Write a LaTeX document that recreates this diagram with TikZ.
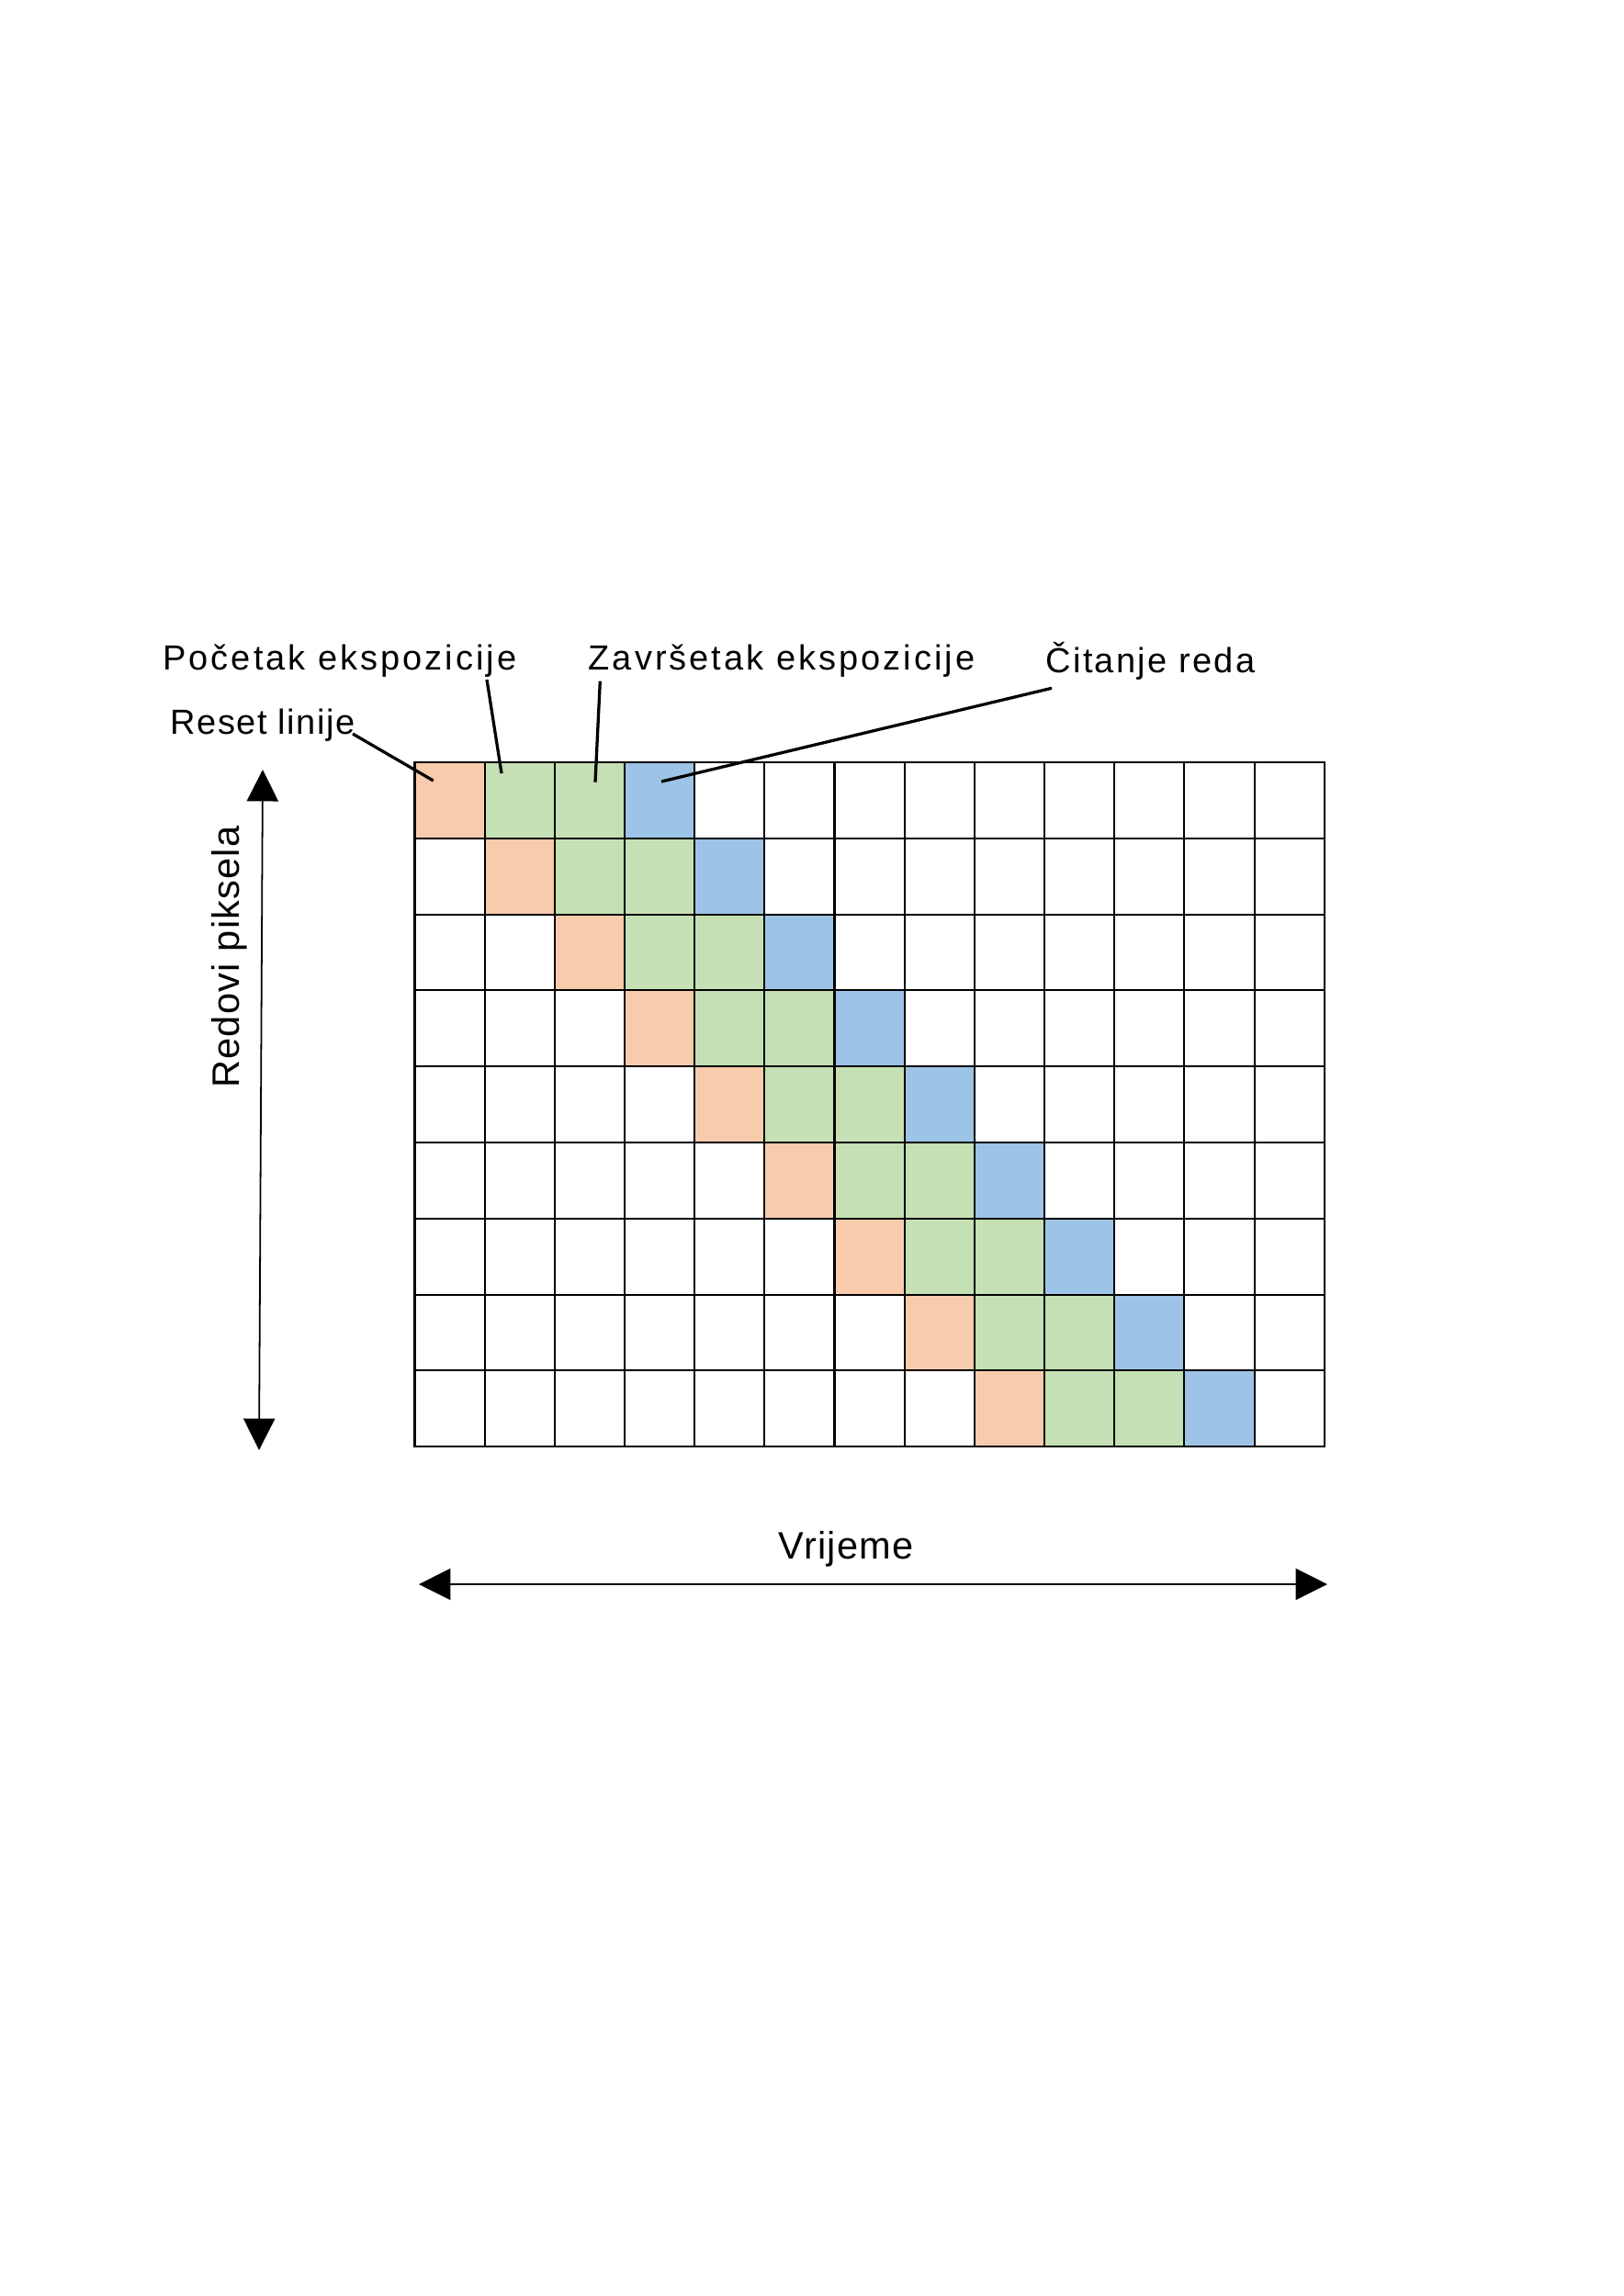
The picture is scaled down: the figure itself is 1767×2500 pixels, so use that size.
\documentclass[tikz,border=0pt]{standalone}
\usepackage{fontspec}
\setmainfont{Liberation Sans}
\newfontfamily\lblfont[LetterSpace=8]{Liberation Sans}
\newfontfamily\lblfontc[LetterSpace=6]{Liberation Sans}
\newfontfamily\lblfontr[LetterSpace=4]{Liberation Sans}
\newfontfamily\axfont[LetterSpace=3]{Liberation Sans}
\usetikzlibrary{arrows.meta}
\definecolor{rstc}{RGB}{248,203,173}
\definecolor{expc}{RGB}{197,224,180}
\definecolor{rdc}{RGB}{157,195,230}
\begin{document}
\begin{tikzpicture}[x=0.33689pt,y=-0.33689pt,
  cell/.style={draw=black,line width=0.7pt,minimum width=25.66pt,minimum height=27.89pt,inner sep=0pt,outer sep=0pt,anchor=north west},
  leader/.style={line width=1.1pt},
  lbl/.style={anchor=base west,inner sep=0pt},
  axlbl/.style={font=\fontsize{14}{17}\axfont,inner sep=0pt,anchor=base},
  axis/.style={line width=0.6pt,{Triangle[length=11.6pt,width=11.5pt]}-{Triangle[length=11.6pt,width=11.5pt]}},
]
\useasboundingbox (0,0) rectangle (1767,2500);
\foreach \r in {0,...,8}{
  \foreach \c in {0,...,12}{
    \pgfmathtruncatemacro\d{\c-\r}
    \ifnum\d=0 \def\cc{rstc}\else\ifnum\d=1 \def\cc{expc}\else\ifnum\d=2 \def\cc{expc}\else\ifnum\d=3 \def\cc{rdc}\else\def\cc{white}\fi\fi\fi\fi
    \node[cell,fill=\cc] (c-\r-\c) at ({451.5+76.17*\c},{830+82.8*\r}) {};
  }
}
% labels
\node[lbl,font=\fontsize{12.8}{15}\lblfont] (lpoc) at (176.7,729) {Početak ekspozicije};
\node[lbl,font=\fontsize{12.8}{15}\lblfont] (lzav) at (640,729) {Završetak ekspozicije};
\node[lbl,font=\fontsize{12.8}{15}\lblfontc] (lcit) at (1138,732) {Čitanje reda};
\node[lbl,font=\fontsize{12.8}{15}\lblfontr] (lres) at (185,799) {Reset linije};
\node[axlbl] (lvr) at (921,1697) {Vrijeme};
\node[axlbl,rotate=90] (lred) at (260,1042) {Redovi piksela};
% leader coordinates
\coordinate (resA) at (384,799);
\coordinate (resB) at (471.7,850);
\coordinate (pocA) at (530,740);
\coordinate (pocB) at (546,842);
\coordinate (zavA) at (653.3,741.7);
\coordinate (zavB) at (648,851.7);
\coordinate (citA) at (1145,749.3);
\coordinate (citB) at (720,851);
\draw[leader] (resA) -- (resB);
\draw[leader] (pocA) -- (pocB);
\draw[leader] (zavA) -- (zavB);
\draw[leader] (citA) -- (citB);
% axes
\coordinate (vtop) at (286,838);
\coordinate (vbot) at (282,1579);
\coordinate (hl) at (456,1725);
\coordinate (hr) at (1445,1725);
\draw[axis] (vtop) -- (vbot);
\draw[axis] (hl) -- (hr);
\end{tikzpicture}
\end{document}
